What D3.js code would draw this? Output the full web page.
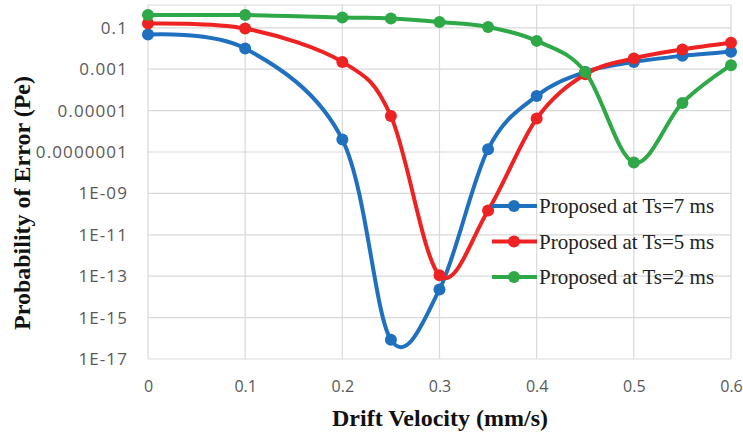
<!DOCTYPE html>
<html>
<head>
<meta charset="utf-8">
<script src="https://cdn.jsdelivr.net/npm/d3@7"></script>
<style>
body{margin:0;background:#fff;}
</style>
</head>
<body>
<script>
const velocity=[0,0.1,0.2,0.25,0.3,0.35,0.4,0.45,0.5,0.55,0.6];
const pe7ms=[0.047,0.01,4.0e-7,8.5e-17,2.3e-14,1.36e-7,5.1e-5,7.4e-4,2.25e-3,4.4e-3,6.9e-3];
const pe5ms=[0.16,0.092,2.25e-3,5.5e-6,1.1e-13,1.5e-10,4.1e-6,5.7e-4,3.3e-3,9e-3,0.0187];
const pe2ms=[0.41,0.41,0.315,0.28,0.19,0.11,0.0233,7.4e-4,3.1e-8,2.35e-5,1.56e-3];
const seriesNames=["Proposed at Ts=7 ms","Proposed at Ts=5 ms","Proposed at Ts=2 ms"];
const xTicks=[0,0.1,0.2,0.3,0.4,0.5,0.6];
const xTickLabels=["0","0.1","0.2","0.3","0.4","0.5","0.6"];
const yTicks=[1e-1,1e-3,1e-5,1e-7,1e-9,1e-11,1e-13,1e-15,1e-17];
const yTickLabels=["0.1","0.001","0.00001","0.0000001","1E-09","1E-11","1E-13","1E-15","1E-17"];

const width=743,height=434,
plotLeft=148,plotRight=731,plotTop=5,plotBottom=359,
colors=["#2070c0","#ee2222","#2fa848"],
gridColor="#d9d9d9";

const series=[pe7ms,pe5ms,pe2ms].map((vals,i)=>({
  name:seriesNames[i],
  color:colors[i],
  points:velocity.map((v,j)=>({x:v,y:vals[j]}))
}));

const xScale=d3.scaleLinear().domain([0,0.6]).range([plotLeft,plotRight]);
const yScale=d3.scaleLog().domain([1e-17,1.26]).range([plotBottom,plotTop]);

const svg=d3.select("body").append("svg")
  .attr("width",width)
  .attr("height",height)
  .style("font-family","'Open Sans', sans-serif");

// grid
svg.append("g").selectAll("line")
  .data(yTicks)
  .enter().append("line")
  .attr("x1",plotLeft).attr("x2",plotRight)
  .attr("y1",d=>yScale(d)).attr("y2",d=>yScale(d))
  .attr("stroke",gridColor).attr("stroke-width",1.2);

svg.append("g").selectAll("line")
  .data(xTicks)
  .enter().append("line")
  .attr("x1",d=>xScale(d)).attr("x2",d=>xScale(d))
  .attr("y1",plotTop).attr("y2",plotBottom)
  .attr("stroke",gridColor).attr("stroke-width",1.2);

svg.append("line")
  .attr("x1",plotLeft).attr("x2",plotRight)
  .attr("y1",plotTop).attr("y2",plotTop)
  .attr("stroke",gridColor).attr("stroke-width",1.2);

// axes
const xAxis=d3.axisBottom(xScale).tickValues(xTicks).tickSize(0).tickPadding(22)
  .tickFormat((d,i)=>xTickLabels[i]);
const gx=svg.append("g").attr("transform",`translate(0,${plotBottom})`).call(xAxis);
gx.select(".domain").remove();
gx.selectAll("text").attr("fill","#595959").style("font-size","16px").style("font-family","'Open Sans', sans-serif");

const yAxis=d3.axisLeft(yScale).tickValues(yTicks).tickSize(0).tickPadding(20)
  .tickFormat((d,i)=>yTickLabels[i]);
const gy=svg.append("g").attr("transform",`translate(${plotLeft},0)`).call(yAxis);
gy.select(".domain").remove();
gy.selectAll("text").attr("fill","#595959").style("font-size","17px").style("letter-spacing","1.1px").style("font-family","'Open Sans', sans-serif");

// lines
const line=d3.line()
  .x(d=>xScale(d.x))
  .y(d=>yScale(d.y))
  .curve(d3.curveCardinal.tension(0));

series.forEach(s=>{
  svg.append("path")
    .datum(s.points)
    .attr("fill","none")
    .attr("stroke",s.color)
    .attr("stroke-width",4)
    .attr("d",line);
  svg.append("g").selectAll("circle")
    .data(s.points)
    .enter().append("circle")
    .attr("cx",d=>xScale(d.x))
    .attr("cy",d=>yScale(d.y))
    .attr("r",6)
    .attr("fill",s.color);
});

// legend
const legend=svg.append("g").selectAll("g")
  .data(series)
  .enter().append("g")
  .attr("transform",(d,i)=>`translate(492,${206+i*35.5})`);
legend.append("line")
  .attr("x1",0).attr("x2",45)
  .attr("stroke",d=>d.color).attr("stroke-width",4);
legend.append("circle")
  .attr("cx",22).attr("r",6)
  .attr("fill",d=>d.color);
legend.append("text")
  .attr("x",47).attr("y",7)
  .attr("fill","#222")
  .style("font-family","'Liberation Serif', 'Times New Roman', serif")
  .style("font-size","21px")
  .text(d=>d.name);

// titles
svg.append("text")
  .attr("x",440).attr("y",426)
  .attr("text-anchor","middle")
  .style("font-family","'Liberation Serif', 'Times New Roman', serif")
  .style("font-weight","bold")
  .style("font-size","24px")
  .attr("fill","#111")
  .text("Drift Velocity (mm/s)");

svg.append("text")
  .attr("transform","rotate(-90)")
  .attr("x",-203).attr("y",30)
  .attr("text-anchor","middle")
  .style("font-family","'Liberation Serif', 'Times New Roman', serif")
  .style("font-weight","bold")
  .style("font-size","24px")
  .attr("fill","#111")
  .text("Probability of Error (Pe)");
</script>
</body>
</html>
